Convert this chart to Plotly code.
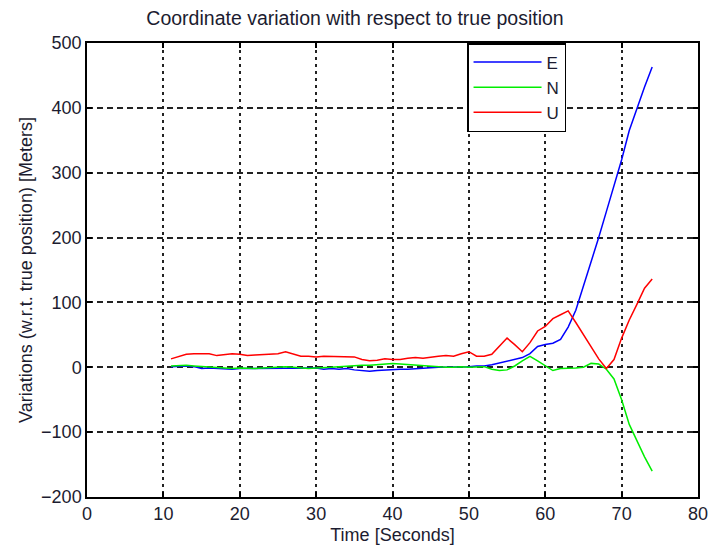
import plotly.graph_objects as go

t = list(range(11, 75))

E = [1, 2, 2, 1, -2, -1, -2, -3, -3, -2,
     -2, -1, -2, -2, -1, -2, -1, -2, -2, -1,
     -3, -2, -3, -2, -4, -5, -6, -5, -4, -4,
     -3, -3, -2, -2, -1, 0, 0, 0, 1, 1,
     2, 2, 4, 7, 10, 13, 15, 21, 32, 35,
     37, 43, 62, 88, 125, 163, 200, 240, 280, 320,
     365, 400, 432, 463]

N = [2, 3, 3, 2, 1, 0, -1, -2, -2, -1,
     -2, -2, -1, 0, 0, 1, 0, -1, -2, -1,
     -1, 0, 1, 2, 2, 3, 3, 4, 5, 6,
     5, 4, 3, 3, 2, 1, 0, 0, 1, 0,
     1, 1, -3, -5, -4, 2, 10, 17, 10, 3,
     -5, -2, -2, -1, 0, 6, 5, -3, -18, -50,
     -88, -113, -138, -160]

U = [13, 16, 20, 21, 21, 21, 18, 19, 21, 20,
     18, 19, 20, 21, 21, 24, 20, 17, 17, 16,
     17, 17, 17, 17, 16, 12, 10, 11, 13, 12,
     12, 14, 15, 14, 16, 17, 18, 17, 21, 24,
     17, 17, 20, 33, 45, 35, 24, 38, 56, 63,
     75, 81, 87, 69, 50, 32, 13, -2, 12, 45,
     73, 97, 122, 136]

series = [("E", E, "#0000ff"), ("N", N, "#00ee00"), ("U", U, "#ff0000")]

x_ticks = [0, 10, 20, 30, 40, 50, 60, 70, 80]
y_ticks = [-200, -100, 0, 100, 200, 300, 400, 500]

fig = go.Figure()
for name, vals, col in series:
    fig.add_trace(go.Scatter(x=t, y=vals, mode="lines", name=name,
                             line=dict(color=col, width=1.5)))

font = "Liberation Sans, Arial, sans-serif"
txt = "#1c1c30"
axis_common = dict(
    showline=True, linecolor="black", linewidth=1.5, mirror="ticks",
    ticks="inside", ticklen=5, tickcolor="black", tickwidth=1.5,
    showgrid=True, gridcolor="#222222", gridwidth=1.6,
    zeroline=False, automargin=False,
    tickfont=dict(family=font, size=18, color=txt),
)

fig.update_layout(
    width=710, height=548,
    paper_bgcolor="white", plot_bgcolor="white",
    margin=dict(l=87, r=12, t=43, b=51),
    title=dict(text="Coordinate variation with respect to true position",
               x=0.5, xanchor="center", y=0.967, yanchor="middle",
               font=dict(family=font, size=19.5, color=txt)),
    xaxis=dict(range=[0, 80], tickvals=x_ticks, griddash="3px,4px",
               title=dict(text="Time [Seconds]", standoff=5,
                          font=dict(family=font, size=18, color=txt)),
               **axis_common),
    yaxis=dict(range=[-200, 500], tickvals=y_ticks, griddash="6px,4px",
               title=dict(text="Variations (w.r.t. true position) [Meters]", standoff=4,
                          font=dict(family=font, size=18, color=txt)),
               **axis_common),
    legend=dict(x=0.622, y=1.0, xanchor="left", yanchor="top",
                bgcolor="white", bordercolor="black", borderwidth=1.5,
                font=dict(family=font, size=17, color=txt),
                tracegroupgap=0, itemwidth=68),
    showlegend=True,
)

fig.write_html("out.html")
